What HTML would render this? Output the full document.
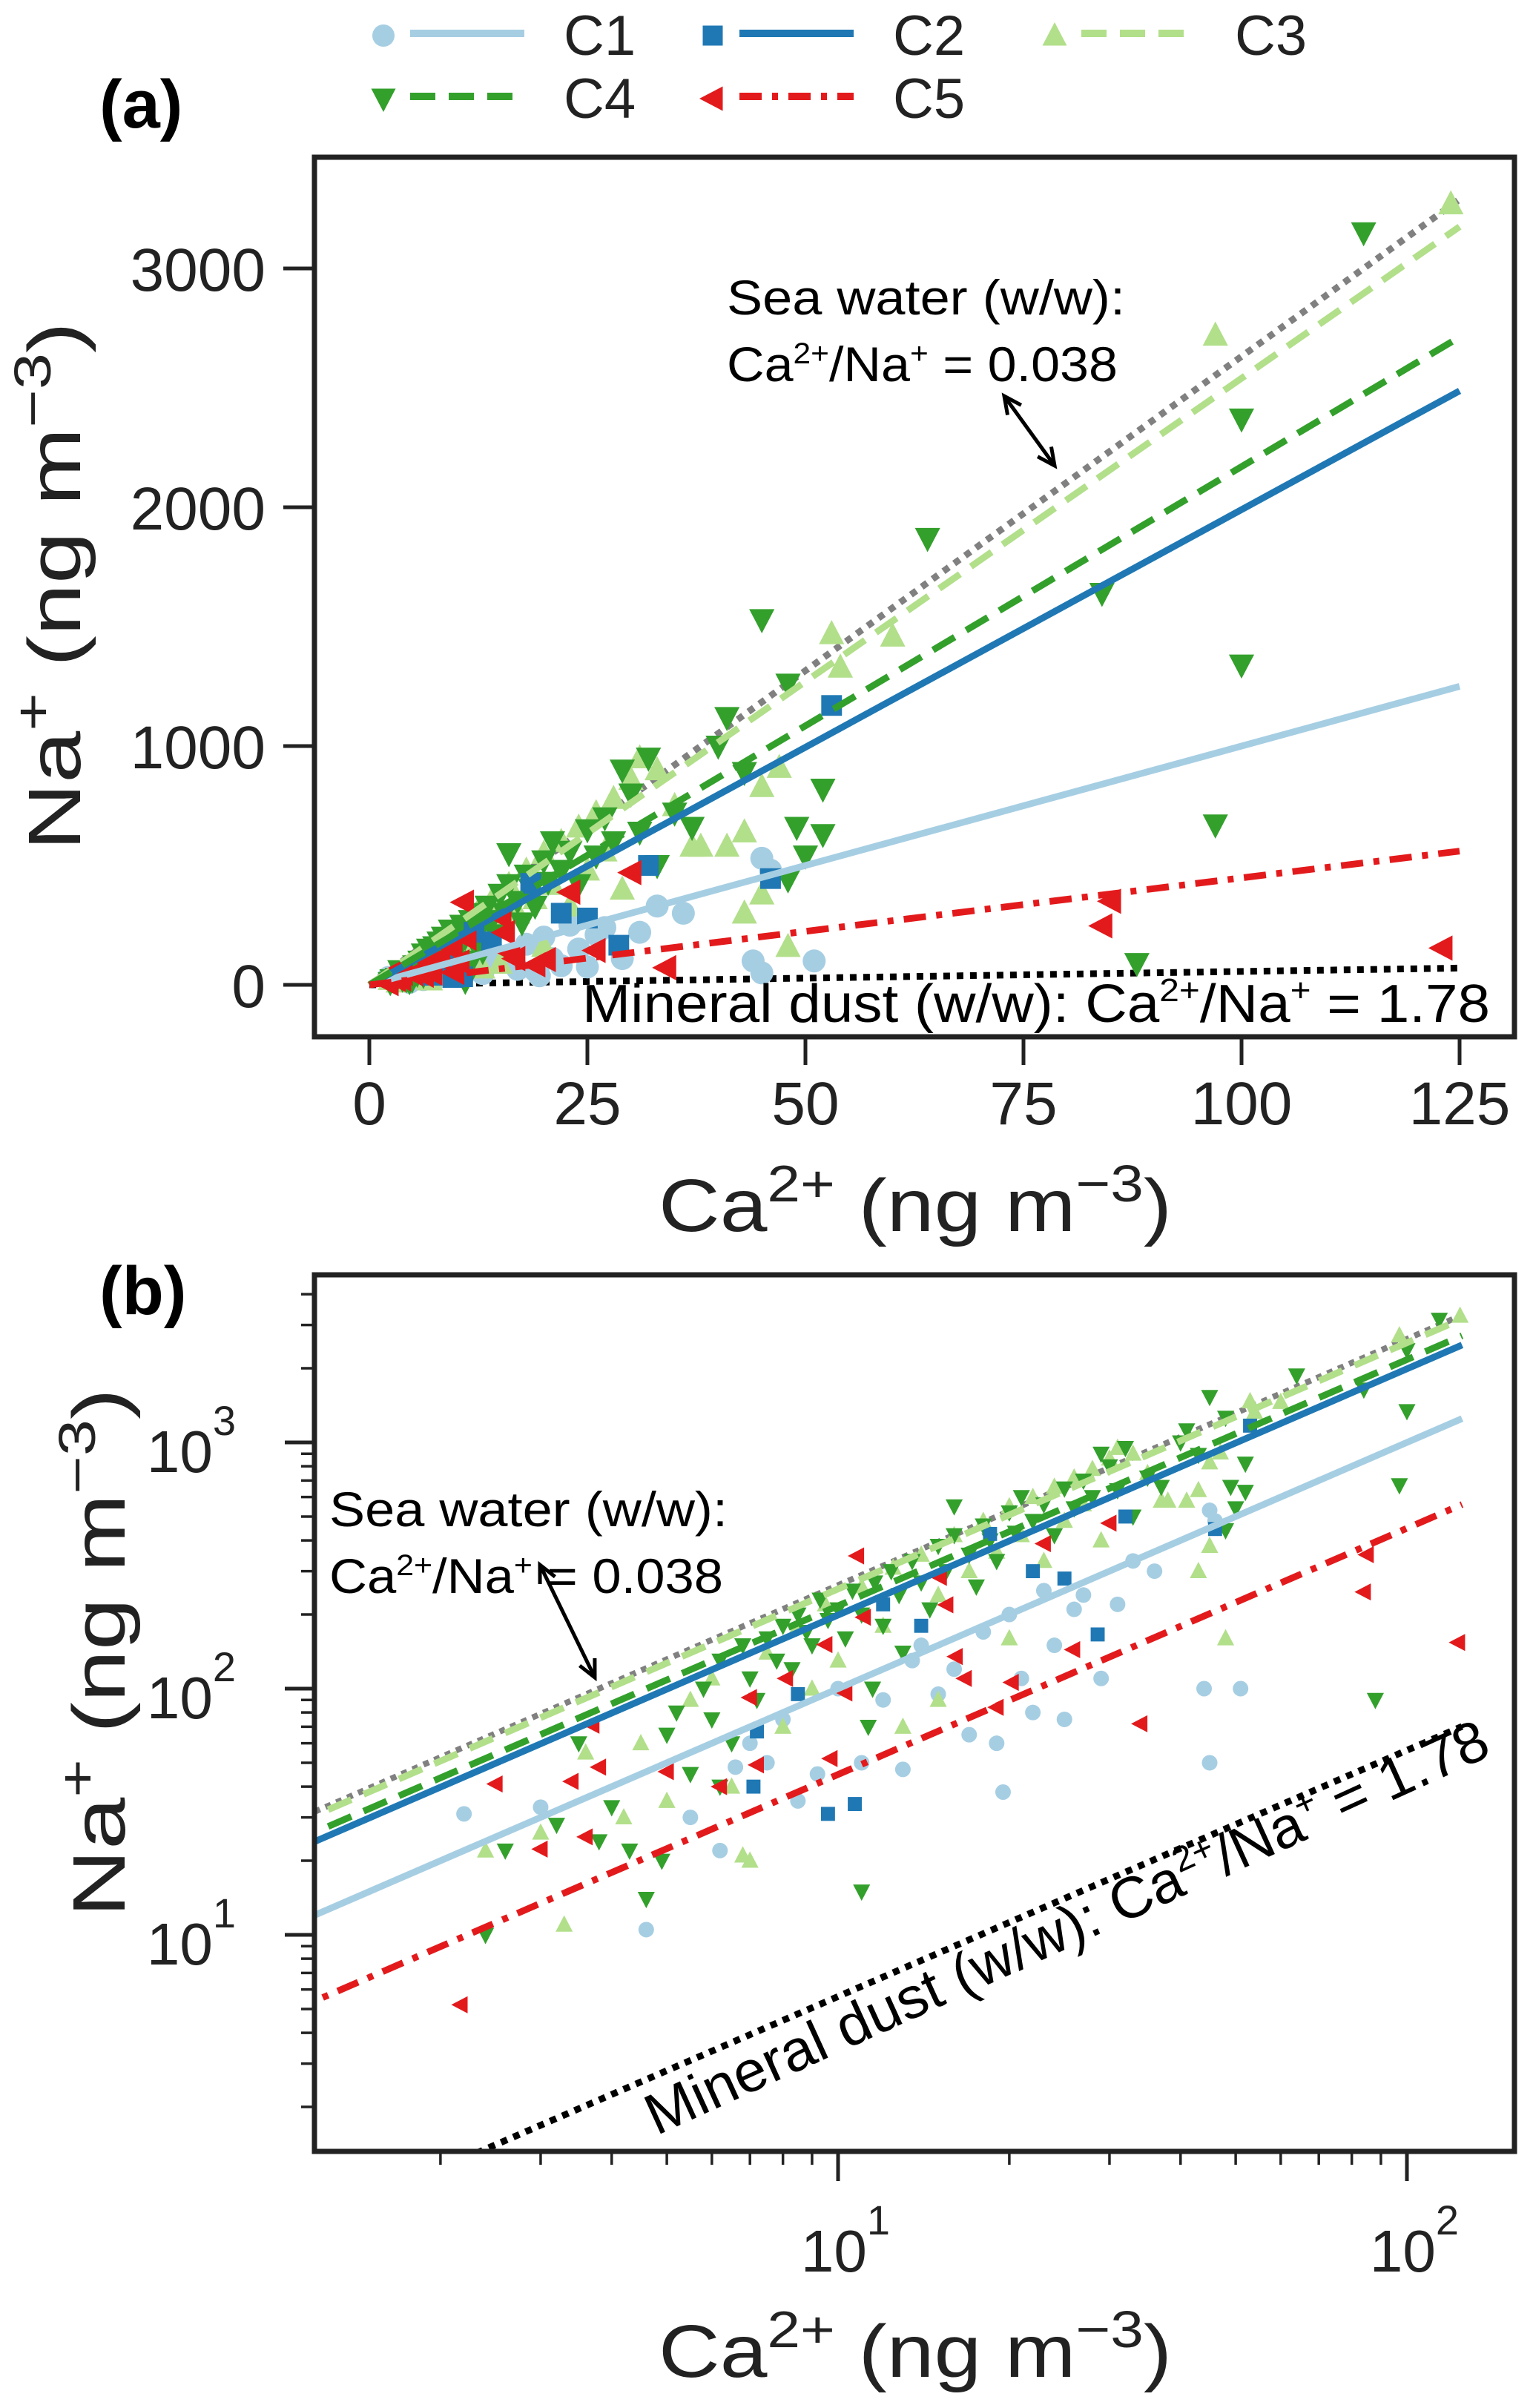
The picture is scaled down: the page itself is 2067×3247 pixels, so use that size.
<!DOCTYPE html>
<html><head><meta charset="utf-8"><style>
html,body{margin:0;padding:0;background:#fff;}
svg{display:block;font-family:"Liberation Sans",Arial,sans-serif;}
</style></head><body>
<svg id="fig" width="2067" height="3247" viewBox="0 0 2067 3247" xmlns="http://www.w3.org/2000/svg">
<rect width="2067" height="3247" fill="#fff"/>
<g id="legend"></g>
<text x="134" y="172" font-size="92" font-weight="bold">(a)</text>
<text x="134" y="1772" font-size="92" font-weight="bold">(b)</text>
<g id="pa"></g>
<g id="pb"></g>
</svg>
<script>
// ---- data: [Ca2+, Na+] in ng m-3 ----
const c1Points=[[2.2,31],[3.0,33],[4.6,10.5],[5.5,30],[6.2,22],[6.6,48],[7.0,60],[7.5,50],[8.0,75],[8.5,35],[9.2,45],[10,100],[11,50],[12,90],[13,47],[13.5,130],[14,150],[15,95],[16,120],[17,65],[18,170],[19,60],[19.5,38],[20,200],[21,110],[22,80],[23,250],[24,150],[25,75],[26,210],[27,240],[29,110],[31,220],[33,330],[36,300],[44,100],[45,50],[45,530],[46,480],[51,100]];
const c2Points=[[7.1,40],[7.2,67],[8.5,95],[9.6,31],[10.7,34],[12,220],[14,180],[18.5,425],[22,300],[25,280],[28.6,166],[32,500],[46,445],[53,1170]];
const c3Points=[[2.4,22],[3.3,11],[3.0,26],[3.6,55],[4.2,30],[4.5,60],[5.0,35],[5.5,90],[6.0,110],[6.5,40],[6.8,21],[7.0,20],[7.5,140],[8.0,70],[8.5,180],[9,100],[9.5,220],[10,130],[11,260],[12,180],[12.5,310],[13,70],[14,350],[15,240],[15,90],[16,420],[17,300],[18,480],[19,360],[20,550],[20,160],[21,420],[22,600],[23,330],[24,660],[25,480],[26,720],[27,560],[28,780],[29,400],[30,860],[31,950],[33,900],[35,750],[37,580],[38,580],[41,580],[43,640],[45,830],[47,910],[43,300],[45,380],[48,160],[53,1470],[54,1330],[60,1460],[97,2720],[124,3270]];
const c4Points=[[2.4,10],[2.6,22],[3.2,28],[3.5,60],[3.8,24],[4.0,33],[4.3,22],[4.6,14],[4.9,20],[5.0,65],[5.2,80],[5.5,45],[5.8,100],[6.0,75],[6.2,130],[6.2,40],[6.5,60],[6.8,150],[7.0,110],[7.2,90],[7.5,160],[7.8,130],[8.0,180],[8.3,120],[8.5,200],[8.8,170],[9.0,150],[9.3,230],[9.6,190],[10,210],[10.3,160],[10.6,250],[11,15],[11,200],[11.3,70],[11.5,100],[11.6,270],[12,180],[12.4,300],[12.8,240],[13,140],[13.5,330],[14,270],[14.5,210],[15,380],[15.5,300],[16,550],[16,420],[17,350],[17.5,260],[18,460],[18.5,400],[19,330],[20,520],[20.5,430],[21,600],[22,480],[23,560],[24,420],[25,650],[26,540],[27,700],[28,600],[29,900],[30,800],[31,640],[32,950],[33,500],[35,720],[37,660],[40,1000],[41,1120],[43,890],[45,1530],[48,1260],[49,660],[50,540],[52,820],[52,630],[48,440],[64,1870],[84,1640],[88,90],[97,670],[100,1340],[100,2370],[114,3150]];
const c5Points=[[2.17,5.2],[2.5,41],[3.0,22.3],[3.4,42],[3.6,25],[3.7,71],[3.8,48],[5.0,46],[6.2,40],[7.0,92],[7.2,49],[8.1,110],[9.5,151],[9.7,52],[10.3,96],[10.8,346],[11.1,195],[15.1,283],[15.5,219],[16.1,135],[16.7,110],[19.0,84],[20.2,106],[23,388],[25.9,144],[30,470],[34,72],[84,247],[85,350],[123,154]];
// fitted Na/Ca slopes
const seriesNames=["C1","C2","C3","C4","C5"];
const fitSlopes=[10.0,19.9,25.4,21.7,4.48];
const seaRatio=0.038, dustRatio=1.78;
const xTicksA=[0,25,50,75,100,125];
const yTicksA=[0,1000,2000,3000];

const NS="http://www.w3.org/2000/svg";
function mk(tag,attrs,parent){const e=document.createElementNS(NS,tag);for(const k in attrs)e.setAttribute(k,attrs[k]);parent.appendChild(e);return e;}
const colors=["#a6cee3","#1f78b4","#b2df8a","#33a02c","#e31a1c"];
const dashes=["none","none","34,18","34,18","30,14,8,14"];
const shapes=["circle","square","up","down","left"];
const allPts=[c1Points,c2Points,c3Points,c4Points,c5Points];

function marker(g,shape,cx,cy,s,color){
  let e;
  if(shape==="circle") e=mk("ellipse",{cx:cx,cy:cy,rx:s*0.5,ry:s*0.5,fill:color},g);
  else if(shape==="square") e=mk("rect",{x:cx-s*0.45,y:cy-s*0.45,width:s*0.9,height:s*0.9,fill:color},g);
  else {
    let p;
    if(shape==="up") p=[[cx,cy-s*0.6],[cx-s*0.55,cy+s*0.45],[cx+s*0.55,cy+s*0.45]];
    else if(shape==="down") p=[[cx,cy+s*0.6],[cx-s*0.55,cy-s*0.45],[cx+s*0.55,cy-s*0.45]];
    else p=[[cx-s*0.6,cy],[cx+s*0.45,cy-s*0.55],[cx+s*0.45,cy+s*0.55]];
    e=mk("polygon",{points:p.map(q=>q.join(",")).join(" "),fill:color},g);
  }
  return e;
}

// ---------- legend ----------
const lg=document.getElementById("legend");
const legPos=[[517,48],[961,48],[1422,48],[517,133],[961,133]];
for(let i=0;i<5;i++){
  const [mx,my]=legPos[i];
  const gi=mk("g",{},lg);
  
  
  marker(gi,shapes[i],mx,my,30,colors[i]);
  mk("line",{x1:mx+36,y1:my-3,x2:mx+190,y2:my-3,stroke:colors[i],"stroke-width":10,"stroke-dasharray":dashes[i]==="none"?"none":dashes[i]},gi);
  const t=mk("text",{x:mx+243,y:my+26,"font-size":76,fill:"#222"},gi);
  t.textContent=seriesNames[i];
}

function tl(t,len){t.setAttribute("textLength",len);t.setAttribute("lengthAdjust","spacingAndGlyphs");}

// ---------- panel a (linear) ----------
const A={L:424,R:2042,T:212,B:1398};
const xa=v=>498+(v/125)*(1968-498);
const ya=v=>1328-(v/3000)*(1328-362);
function axisText(g,x,y,txt,size,anchor,name){const t=mk("text",{x:x,y:y,"font-size":size,"text-anchor":anchor,fill:"#222"},g);t.textContent=txt;return t;}
function arrow(g,x1,y1,x2,y2){
  mk("line",{x1:x1,y1:y1,x2:x2,y2:y2,stroke:"#000","stroke-width":5},g);
  const ang=Math.atan2(y2-y1,x2-x1);
  [[x1,y1,ang+Math.PI],[x2,y2,ang]].forEach(([x,y,a])=>{
    const h=26,w=0.45;
    const p=`${x+h*Math.cos(a+Math.PI-w)},${y+h*Math.sin(a+Math.PI-w)} ${x},${y} ${x+h*Math.cos(a+Math.PI+w)},${y+h*Math.sin(a+Math.PI+w)}`;
    mk("polyline",{points:p,fill:"none",stroke:"#000","stroke-width":5},g);
  });
}
const XT='Ca<tspan dy="-40" font-size="70">2+</tspan><tspan dy="40">  (ng m</tspan><tspan dy="-40" font-size="70">−3</tspan><tspan dy="40">)</tspan>';
const YT='Na<tspan dy="-40" font-size="70">+</tspan><tspan dy="40">   (ng m</tspan><tspan dy="-40" font-size="70">−3</tspan><tspan dy="40">)</tspan>';
(function(){
  const g=document.getElementById("pa");
  mk("clipPath",{id:"clipA"},g);
  mk("rect",{x:A.L,y:A.T,width:A.R-A.L,height:A.B-A.T},document.getElementById("clipA"));
  const pl=mk("g",{"clip-path":"url(#clipA)"},g);
  mk("line",{x1:xa(0),y1:ya(0),x2:xa(125),y2:ya(125/seaRatio),stroke:"#808080","stroke-width":9,"stroke-dasharray":"9,9"},pl);
  mk("line",{x1:xa(0),y1:ya(0),x2:xa(125),y2:ya(125/dustRatio),stroke:"#000","stroke-width":9,"stroke-dasharray":"9,9"},pl);
  const order=[0,2,3,1,4];
  order.forEach(i=>{
    const sg=mk("g",{},pl);
    
    
    allPts[i].forEach(p=>marker(sg,shapes[i],xa(p[0]),ya(p[1]),31,colors[i]));
  });
  for(let i=0;i<5;i++){
    const l=mk("line",{x1:xa(0),y1:ya(0),x2:xa(125),y2:ya(125*fitSlopes[i]),stroke:colors[i],"stroke-width":9,"stroke-dasharray":dashes[i]==="none"?"none":dashes[i]},pl);
    
  }
  mk("rect",{x:A.L,y:A.T,width:A.R-A.L,height:A.B-A.T,fill:"none",stroke:"#222","stroke-width":7},g);
  xTicksA.forEach(v=>{mk("line",{x1:xa(v),y1:A.B,x2:xa(v),y2:A.B+38,stroke:"#222","stroke-width":5},g);axisText(g,xa(v),A.B+118,String(v),82,"middle","x-tick-label");});
  yTicksA.forEach(v=>{mk("line",{x1:A.L-42,y1:ya(v),x2:A.L,y2:ya(v),stroke:"#222","stroke-width":5},g);axisText(g,A.L-66,ya(v)+30,String(v),82,"end","y-tick-label");});
  const xt=mk("text",{x:888,y:1660,"font-size":100,fill:"#222"},g);
  
  xt.innerHTML=XT;tl(xt,692);
  const yt=mk("text",{x:0,y:0,"font-size":100,fill:"#222",transform:"translate(108,1147) rotate(-90)"},g);
  
  yt.innerHTML=YT;tl(yt,713);
  const s1=mk("text",{x:980,y:424,"font-size":66,fill:"#000"},g);s1.textContent="Sea water (w/w):";tl(s1,537);
  const s2=mk("text",{x:980,y:514,"font-size":66,fill:"#000"},g);s2.innerHTML='Ca<tspan dy="-24" font-size="40">2+</tspan><tspan dy="24">/Na</tspan><tspan dy="-24" font-size="40">+</tspan><tspan dy="24"> = 0.038</tspan>';tl(s2,527);
  const d=mk("text",{x:785,y:1378,"font-size":72,fill:"#000"},g);
  d.innerHTML='Mineral dust (w/w): Ca<tspan dy="-28" font-size="44">2+</tspan><tspan dy="28">/Na</tspan><tspan dy="-28" font-size="44">+</tspan><tspan dy="28"> = 1.78</tspan>';tl(d,1224);
  arrow(g,1354,534,1422,628);
})();

// ---------- panel b (log-log) ----------
const B={L:424,R:2042,T:1719,B:2901};
const xb=v=>1130+(Math.log10(v)-1)*767;
const yb=v=>1945-(Math.log10(v)-3)*332;
(function(){
  const g=document.getElementById("pb");
  mk("clipPath",{id:"clipB"},g);
  mk("rect",{x:B.L,y:B.T,width:B.R-B.L,height:B.B-B.T},document.getElementById("clipB"));
  const pl=mk("g",{"clip-path":"url(#clipB)"},g);
  const x0=1.1,x1=125;
  mk("line",{x1:xb(x0),y1:yb(x0/seaRatio),x2:xb(x1),y2:yb(x1/seaRatio),stroke:"#808080","stroke-width":8,"stroke-dasharray":"8,8"},pl);
  mk("line",{x1:xb(x0),y1:yb(x0/dustRatio),x2:xb(x1),y2:yb(x1/dustRatio),stroke:"#000","stroke-width":9,"stroke-dasharray":"9,9"},pl);
  const order=[0,2,3,1,4];
  order.forEach(i=>{
    const sg=mk("g",{},pl);
    
    
    allPts[i].forEach(p=>marker(sg,shapes[i],xb(p[0]),yb(p[1]),21,colors[i]));
  });
  for(let i=0;i<5;i++){
    const l=mk("line",{x1:xb(x0),y1:yb(x0*fitSlopes[i]),x2:xb(x1),y2:yb(x1*fitSlopes[i]),stroke:colors[i],"stroke-width":9,"stroke-dasharray":dashes[i]==="none"?"none":dashes[i]},pl);
    
  }
  mk("rect",{x:B.L,y:B.T,width:B.R-B.L,height:B.B-B.T,fill:"none",stroke:"#222","stroke-width":7},g);
  for(let e=0;e<=2;e++)for(let m=1;m<=9;m++){
    const v=m*Math.pow(10,e),x=xb(v);
    if(x<B.L||x>B.R)continue;
    mk("line",{x1:x,y1:B.B,x2:x,y2:B.B+(m===1?40:18),stroke:"#222","stroke-width":m===1?5:3.5},g);
  }
  for(let e=0;e<=3;e++)for(let m=1;m<=9;m++){
    const v=m*Math.pow(10,e),y=yb(v);
    if(y<B.T||y>B.B)continue;
    mk("line",{x1:B.L-(m===1?40:18),y1:y,x2:B.L,y2:y,stroke:"#222","stroke-width":m===1?5:3.5},g);
  }
  [1,2].forEach(e=>{const t=mk("text",{x:xb(Math.pow(10,e))+10,y:3063,"font-size":80,"text-anchor":"middle",fill:"#222"},g);t.innerHTML='10<tspan dy="-50" font-size="56">'+e+'</tspan>';});
  [1,2,3].forEach(e=>{const t=mk("text",{x:318,y:yb(Math.pow(10,e))+40,"font-size":80,"text-anchor":"end",fill:"#222"},g);t.innerHTML='10<tspan dy="-50" font-size="56">'+e+'</tspan>';});
  const xt=mk("text",{x:888,y:3205,"font-size":100,fill:"#222"},g);
  
  xt.innerHTML=XT;tl(xt,692);
  const yt=mk("text",{x:0,y:0,"font-size":100,fill:"#222",transform:"translate(168,2585) rotate(-90)"},g);
  
  yt.innerHTML=YT;tl(yt,713);
  const s1=mk("text",{x:444,y:2058,"font-size":66,fill:"#000"},g);s1.textContent="Sea water (w/w):";tl(s1,537);
  const s2=mk("text",{x:444,y:2148,"font-size":66,fill:"#000"},g);s2.innerHTML='Ca<tspan dy="-24" font-size="40">2+</tspan><tspan dy="24">/Na</tspan><tspan dy="-24" font-size="40">+</tspan><tspan dy="24"> = 0.038</tspan>';tl(s2,531);
  arrow(g,728,2110,802,2262);
  const d=mk("text",{x:0,y:0,"font-size":78,fill:"#000",transform:"translate(885,2880) rotate(-24.5)"},g);
  
  d.innerHTML='Mineral dust (w/w): Ca<tspan dy="-30" font-size="48">2+</tspan><tspan dy="30">/Na</tspan><tspan dy="-30" font-size="48">+</tspan><tspan dy="30"> = 1.78</tspan>';tl(d,1240);
})();
</script>
</body></html>
